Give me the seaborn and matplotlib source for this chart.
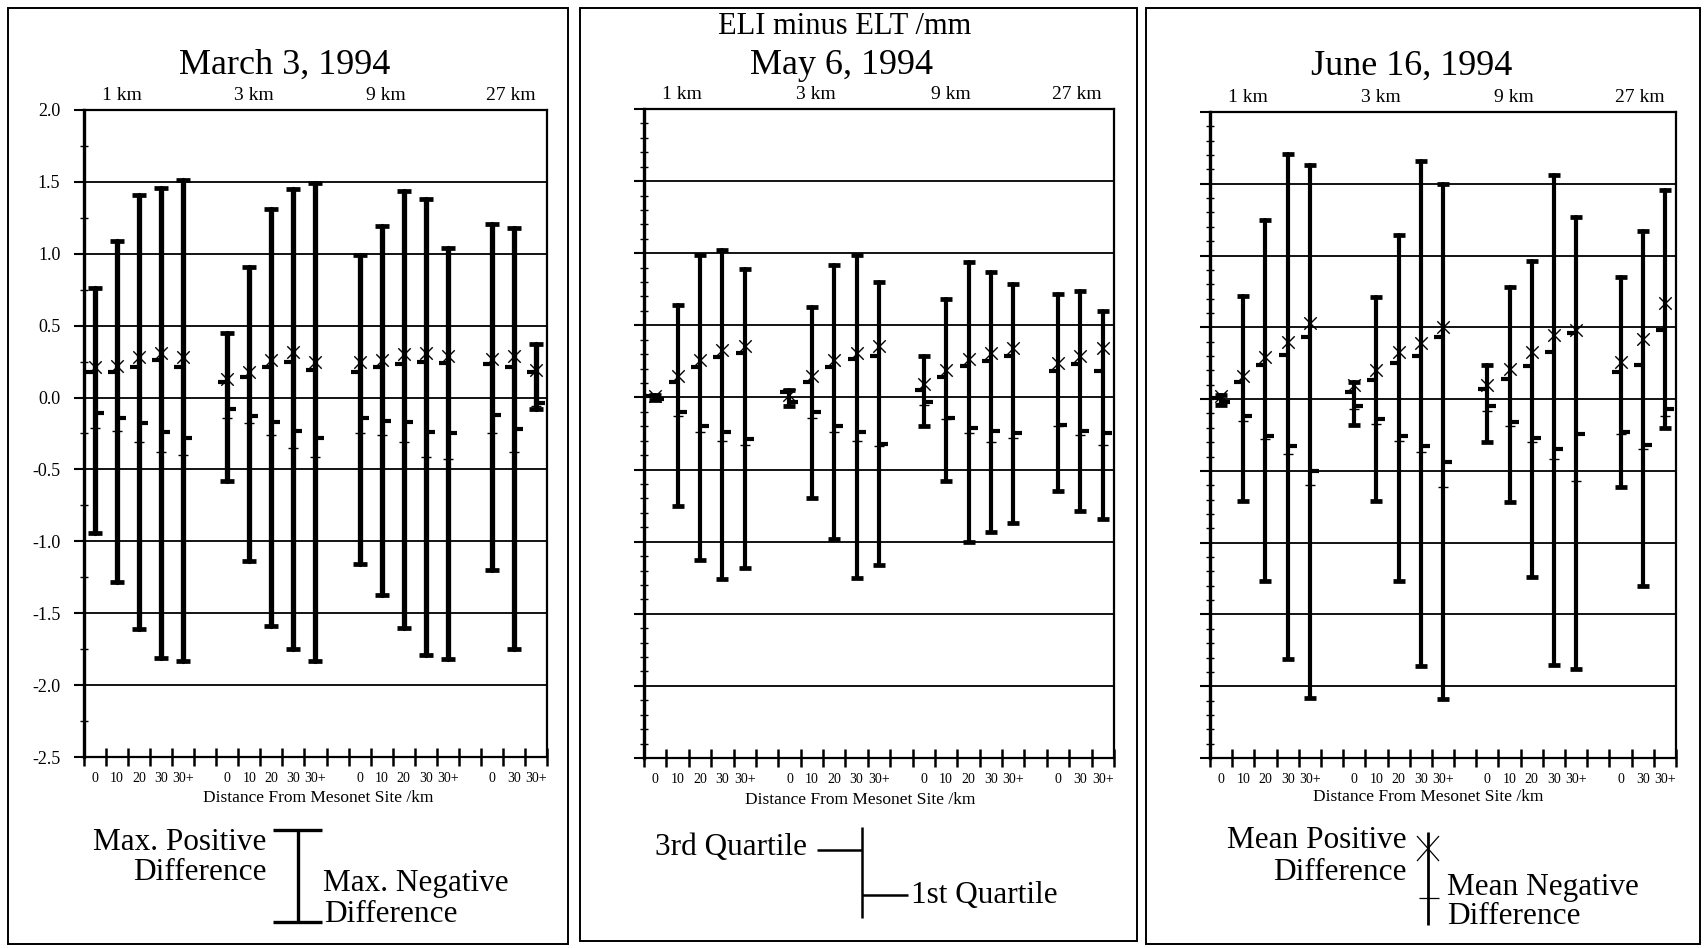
import numpy as np
import pandas as pd
import matplotlib
matplotlib.use("Agg")
import matplotlib.pyplot as plt
import seaborn as sns
from matplotlib.path import Path
from matplotlib.patches import Rectangle
from matplotlib.lines import Line2D
from matplotlib.ticker import MultipleLocator, FixedLocator

# ---------------- data ----------------
groups = ["1 km", "3 km", "9 km", "27 km"]
group_dists = [["0", "10", "20", "30", "30+"],
               ["0", "10", "20", "30", "30+"],
               ["0", "10", "20", "30", "30+"],
               ["0", "30", "30+"]]
dates = ["March 3, 1994", "May 6, 1994", "June 16, 1994"]
main_title = "ELI minus ELT /mm"
x_title = "Distance From Mesonet Site /km"
y_ticks = [-2.5, -2.0, -1.5, -1.0, -0.5, 0.0, 0.5, 1.0, 1.5, 2.0]
y_ticklabels = ["-2.5", "-2.0", "-1.5", "-1.0", "-0.5", "0.0", "0.5", "1.0", "1.5", "2.0"]

# March 3, 1994
mar_max_pos = [0.76, 1.09, 1.41, 1.46, 1.51, 0.45, 0.91, 1.31, 1.45, 1.49,
               0.99, 1.19, 1.44, 1.38, 1.04, 1.21, 1.18, 0.37]
mar_max_neg = [-0.94, -1.28, -1.61, -1.81, -1.83, -0.58, -1.14, -1.59, -1.75, -1.83,
               -1.16, -1.37, -1.60, -1.79, -1.82, -1.20, -1.75, -0.08]
mar_q3 = [0.18, 0.18, 0.21, 0.26, 0.21, 0.11, 0.14, 0.21, 0.25, 0.19,
          0.18, 0.21, 0.23, 0.25, 0.24, 0.23, 0.21, 0.18]
mar_mean_pos = [0.21, 0.22, 0.28, 0.31, 0.28, 0.13, 0.18, 0.26, 0.32, 0.25,
                0.245, 0.26, 0.30, 0.31, 0.29, 0.27, 0.29, 0.19]
mar_q1 = [-0.11, -0.14, -0.18, -0.24, -0.28, -0.08, -0.13, -0.17, -0.23, -0.28,
          -0.14, -0.16, -0.17, -0.24, -0.25, -0.12, -0.22, -0.04]
mar_mean_neg = [-0.21, -0.23, -0.31, -0.38, -0.40, -0.14, -0.18, -0.26, -0.35, -0.41,
                -0.245, -0.26, -0.31, -0.41, -0.43, -0.245, -0.38, -0.06]

# May 6, 1994
may_max_pos = [0.02, 0.64, 0.99, 1.02, 0.89, 0.05, 0.63, 0.92, 0.99, 0.80,
               0.29, 0.68, 0.94, 0.87, 0.79, 0.72, 0.74, 0.60]
may_max_neg = [-0.02, -0.75, -1.13, -1.26, -1.18, -0.06, -0.70, -0.98, -1.25, -1.16,
               -0.20, -0.58, -1.00, -0.93, -0.87, -0.65, -0.79, -0.84]
may_q3 = [0.01, 0.105, 0.21, 0.28, 0.31, 0.04, 0.105, 0.21, 0.27, 0.29,
          0.055, 0.14, 0.22, 0.25, 0.29, 0.18, 0.23, 0.18]
may_mean_pos = [0.01, 0.15, 0.26, 0.33, 0.36, 0.02, 0.15, 0.26, 0.31, 0.355,
                0.09, 0.19, 0.27, 0.31, 0.345, 0.24, 0.29, 0.34]
may_q1 = [-0.01, -0.10, -0.20, -0.24, -0.29, -0.03, -0.10, -0.20, -0.24, -0.32,
          -0.03, -0.14, -0.21, -0.23, -0.25, -0.19, -0.23, -0.25]
may_mean_neg = [-0.01, -0.13, -0.24, -0.30, -0.33, -0.05, -0.14, -0.24, -0.30, -0.34,
                -0.05, -0.15, -0.25, -0.31, -0.28, -0.20, -0.26, -0.33]

# June 16, 1994
jun_max_pos = [0.03, 0.72, 1.25, 1.71, 1.63, 0.12, 0.71, 1.14, 1.66, 1.50,
               0.24, 0.78, 0.96, 1.56, 1.27, 0.85, 1.17, 1.46]
jun_max_neg = [-0.04, -0.71, -1.27, -1.81, -2.08, -0.18, -0.71, -1.27, -1.86, -2.09,
               -0.30, -0.72, -1.24, -1.85, -1.88, -0.61, -1.30, -0.20]
jun_q3 = [0.01, 0.12, 0.24, 0.31, 0.43, 0.05, 0.135, 0.25, 0.30, 0.43,
          0.07, 0.14, 0.23, 0.33, 0.46, 0.19, 0.24, 0.48]
jun_mean_pos = [0.02, 0.16, 0.29, 0.40, 0.53, 0.10, 0.20, 0.33, 0.39, 0.50,
                0.10, 0.21, 0.33, 0.45, 0.48, 0.26, 0.42, 0.67]
jun_q1 = [-0.02, -0.12, -0.26, -0.33, -0.50, -0.05, -0.14, -0.26, -0.33, -0.44,
          -0.05, -0.16, -0.27, -0.35, -0.24, -0.23, -0.32, -0.07]
jun_mean_neg = [-0.03, -0.15, -0.28, -0.38, -0.60, -0.07, -0.17, -0.29, -0.37, -0.61,
                -0.08, -0.19, -0.30, -0.42, -0.57, -0.24, -0.35, -0.12]

# ---------------- style ----------------
sns.set_theme(style="white", rc={
    "axes.edgecolor": "black", "xtick.color": "black", "ytick.color": "black",
    "text.color": "black", "axes.labelcolor": "black",
})
plt.rcParams["font.family"] = ["Liberation Serif", "DejaVu Serif"]

W, H = 1706, 948
fig = plt.figure(figsize=(W / 100, H / 100), dpi=100)


def fx(x):
    return x / W


def fy(y):
    return 1 - y / H


# slot positions: one empty slot between distance groups
slot_x, slot_lab = [], []
for g, dl in enumerate(group_dists):
    for i, d in enumerate(dl):
        slot_x.append(6 * g + i + 0.5)
        slot_lab.append(d)

left_tick = Path([(-1, 0), (0, 0)])
right_tick = Path([(0, 0), (1, 0)])

panels = [
    (mar_max_pos, mar_max_neg, mar_q3, mar_mean_pos, mar_q1, mar_mean_neg),
    (may_max_pos, may_max_neg, may_q3, may_mean_pos, may_q1, may_mean_neg),
    (jun_max_pos, jun_max_neg, jun_q3, jun_mean_pos, jun_q1, jun_mean_neg),
]
axes_px = [(84, 110, 547, 757), (644, 109, 1114, 758), (1210, 112, 1676, 758)]
boxes_px = [(8, 8, 568, 944), (580, 8, 1137, 941), (1146, 8, 1700, 944)]
title_px = [(285, 65), (842, 65), (1412, 66)]
xlabel_px = [(318, 798), (860, 800), (1428, 797)]
group_label_x = [1.7, 7.7, 13.7, 19.35]

for p, (vals, apx) in enumerate(zip(panels, axes_px)):
    mx, mn, q3, mp, q1, mneg = vals
    l, t, r, b = apx
    ax = fig.add_axes([fx(l), fy(b), (r - l) / W, (b - t) / H])
    df = pd.DataFrame({"x": slot_x, "bar": range(len(slot_x)),
                       "max_pos": mx, "max_neg": mn, "q3": q3,
                       "mean_pos": mp, "q1": q1, "mean_neg": mneg})
    bar_lw = 3.8 if p == 0 else 3.0
    cap_s = 100 if p == 0 else 70
    rng = pd.concat([df[["bar", "x"]].assign(v=df["max_neg"]),
                     df[["bar", "x"]].assign(v=df["max_pos"])])
    sns.lineplot(data=rng, x="x", y="v", units="bar", estimator=None, sort=False,
                 color="black", linewidth=bar_lw, ax=ax, legend=False, zorder=3)
    for col in ["max_pos", "max_neg"]:
        sns.scatterplot(data=df, x="x", y=col, marker="_", s=cap_s, linewidth=3.4,
                        color="black", ax=ax, legend=False, zorder=4)
    sns.scatterplot(data=df, x="x", y="q3", marker=left_tick, s=170, linewidth=3.0,
                    edgecolor="black", color="black", ax=ax, legend=False, zorder=4)
    sns.scatterplot(data=df, x="x", y="q1", marker=right_tick, s=170, linewidth=3.0,
                    edgecolor="black", color="black", ax=ax, legend=False, zorder=4)
    sns.scatterplot(data=df, x="x", y="mean_pos", marker="x", s=80, linewidth=1.0,
                    color="black", ax=ax, legend=False, zorder=5)
    sns.scatterplot(data=df, x="x", y="mean_neg", marker="_", s=55, linewidth=1.0,
                    color="black", ax=ax, legend=False, zorder=5)

    ax.set_xlim(0, 21)
    ax.set_ylim(-2.5, 2.0)
    ax.set_xlabel("")
    ax.set_ylabel("")
    ax.set_xticks(np.arange(0, 22))
    ax.set_xticklabels([])
    ax.set_xticks(slot_x, minor=True)
    ax.set_xticklabels(slot_lab, minor=True)
    ax.tick_params(axis="x", which="major", direction="inout", length=13, width=1.8,
                   bottom=True, top=False)
    ax.tick_params(axis="x", which="minor", length=0, pad=11, labelsize=10, bottom=True)

    ax.set_yticks(y_ticks)
    if p == 0:
        ax.set_yticklabels(y_ticklabels)
        ax.yaxis.set_minor_locator(FixedLocator(np.arange(-2.25, 2.0, 0.5)))
    else:
        ax.set_yticklabels([])
        ax.yaxis.set_minor_locator(MultipleLocator(0.1))
    ax.tick_params(axis="y", which="major", direction="out", length=7, width=1.5,
                   left=True, pad=10, labelsize=13)
    ax.tick_params(axis="y", which="minor", direction="inout", length=6, width=1.0,
                   left=True)
    ax.grid(True, axis="y", which="major", color="black", linewidth=1.3)
    ax.grid(False, axis="x")
    for side, sp in ax.spines.items():
        sp.set_visible(True)
        sp.set_color("black")
        sp.set_linewidth(2.4 if side == "left" else 1.6)

    for gx, gname in zip(group_label_x, groups):
        ax.text(gx, 1.023, gname, transform=ax.get_xaxis_transform(),
                ha="center", va="center", fontsize=14)

    bl, bt, br, bb = boxes_px[p]
    fig.add_artist(Rectangle((fx(bl), fy(bb)), (br - bl) / W, (bb - bt) / H,
                             fill=False, edgecolor="black", linewidth=1.4,
                             transform=fig.transFigure))
    fig.text(fx(title_px[p][0]), fy(title_px[p][1]), dates[p], ha="center",
             va="center", fontsize=26)
    fig.text(fx(xlabel_px[p][0]), fy(xlabel_px[p][1]), x_title, ha="center",
             va="center", fontsize=12.5)

fig.text(fx(845), fy(27), main_title, ha="center", va="center", fontsize=22)


# ---------------- legend keys ----------------
def seg(x0, y0, x1, y1, lw):
    fig.add_artist(Line2D([fx(x0), fx(x1)], [fy(y0), fy(y1)], color="black",
                          linewidth=lw, transform=fig.transFigure,
                          solid_capstyle="butt"))


LFS = 22.5
# panel 1
seg(273, 830, 322, 830, 2.4)
seg(298, 830, 298, 922, 2.4)
seg(273, 922, 322, 922, 2.4)
fig.text(fx(266), fy(842), "Max. Positive", ha="right", va="center", fontsize=LFS)
fig.text(fx(267), fy(873), "Difference", ha="right", va="center", fontsize=LFS)
fig.text(fx(323), fy(883), "Max. Negative", ha="left", va="center", fontsize=LFS)
fig.text(fx(324), fy(915), "Difference", ha="left", va="center", fontsize=LFS)
# panel 2
seg(817, 850, 862, 850, 1.8)
seg(862, 827, 862, 918, 1.8)
seg(862, 895, 908, 895, 1.8)
fig.text(fx(807), fy(848), "3rd Quartile", ha="right", va="center", fontsize=LFS)
fig.text(fx(911), fy(895), "1st Quartile", ha="left", va="center", fontsize=LFS)
# panel 3
seg(1428, 832, 1428, 925, 2.0)
seg(1417, 836, 1439, 861, 0.9)
seg(1417, 861, 1439, 836, 0.9)
seg(1419, 898, 1439, 898, 0.9)
fig.text(fx(1407), fy(840), "Mean Positive", ha="right", va="center", fontsize=LFS)
fig.text(fx(1407), fy(873), "Difference", ha="right", va="center", fontsize=LFS)
fig.text(fx(1447), fy(888), "Mean Negative", ha="left", va="center", fontsize=LFS)
fig.text(fx(1447), fy(917), "Difference", ha="left", va="center", fontsize=LFS)

fig.savefig("out.png", dpi=100)
